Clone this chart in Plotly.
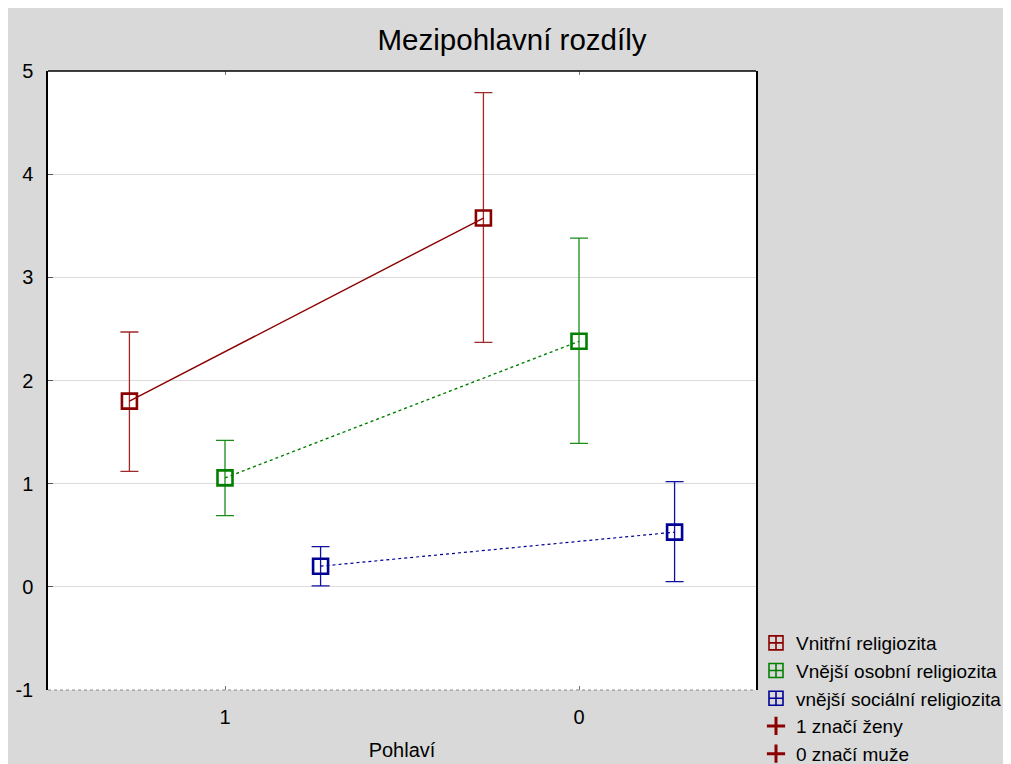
import plotly.graph_objects as go

categories = ["1", "0"]
series_names = ["Vnitřní religiozita", "Vnější osobní religiozita", "vnější sociální religiozita"]
means = {
    "Vnitřní religiozita": [1.80, 3.575],
    "Vnější osobní religiozita": [1.056, 2.38],
    "vnější sociální religiozita": [0.20, 0.53],
}
upper = {
    "Vnitřní religiozita": [2.47, 4.79],
    "Vnější osobní religiozita": [1.42, 3.38],
    "vnější sociální religiozita": [0.39, 1.02],
}
lower = {
    "Vnitřní religiozita": [1.12, 2.37],
    "Vnější osobní religiozita": [0.69, 1.39],
    "vnější sociální religiozita": [0.01, 0.05],
}
y_tick_values = [-1, 0, 1, 2, 3, 4, 5]
y_tick_labels = ["-1", "0", "1", "2", "3", "4", "5"]
note_labels = ["1 značí ženy", "0 značí muže"]

styles = {
    "Vnitřní religiozita": dict(color="#8B0000", ecolor="#A02828", dash="solid", lw=1.4),
    "Vnější osobní religiozita": dict(color="#008000", ecolor="#1A8C1A", dash="3px,3px", lw=1.4),
    "vnější sociální religiozita": dict(color="#000096", ecolor="#1010A0", dash="dot", lw=1.2),
}

FONT = "Liberation Sans, Arial, sans-serif"
W, H = 1003, 756
fig = go.Figure()

for name in series_names:
    st = styles[name]
    m = means[name]
    plus = [u - v for u, v in zip(upper[name], m)]
    minus = [v - l for v, l in zip(m, lower[name])]
    fig.add_trace(go.Scatter(
        x=categories, y=m, name=name, mode="lines+markers",
        offsetgroup=name, showlegend=False,
        line=dict(color=st["color"], width=st["lw"], dash=st["dash"]),
        marker=dict(symbol="square-open", size=15, color=st["color"],
                    line=dict(width=2.6, color=st["color"])),
        error_y=dict(type="data", symmetric=False, array=plus, arrayminus=minus,
                     color=st["ecolor"], thickness=1.3, width=9),
    ))

for name in series_names:
    st = styles[name]
    fig.add_trace(go.Scatter(
        x=[None], y=[None], name=name, mode="markers",
        marker=dict(symbol="square-cross-open", size=14, color=st["color"],
                    line=dict(width=1.6, color=st["color"])),
    ))

for lab in note_labels:
    fig.add_trace(go.Scatter(
        x=[None], y=[None], name=lab, mode="markers",
        marker=dict(symbol="cross-thin", size=13, color="#8B0000",
                    line=dict(width=3, color="#8B0000")),
    ))

fig.update_layout(
    width=W, height=H,
    margin=dict(l=40, r=252, t=63, b=74),
    paper_bgcolor="#D9D9D9",
    plot_bgcolor="white",
    scattermode="group",
    scattergap=0.19,
    font=dict(family=FONT, size=20, color="black"),
    title=dict(text="Mezipohlavní rozdíly", x=504/W, xref="container", xanchor="center",
               y=1 - 32/H, yref="container", yanchor="middle",
               font=dict(size=29.5, family=FONT, color="black")),
    legend=dict(x=748/W, xref="container", xanchor="left",
                y=1 - 616/H, yref="container", yanchor="top",
                bgcolor="rgba(0,0,0,0)", font=dict(size=19, family=FONT, color="black"),
                itemwidth=30, tracegroupgap=0),
    xaxis=dict(type="category", range=[-0.5, 1.5], showgrid=False, zeroline=False,
               showline=False, ticks="inside", ticklen=4, tickcolor="#777777",
               mirror="ticks", tickfont=dict(size=20), ticklabelstandoff=13,
               title=dict(text="Pohlaví", font=dict(size=20), standoff=15),
               automargin=False),
    yaxis=dict(range=[-1, 5], tickvals=y_tick_values, ticktext=y_tick_labels, showgrid=True,
               gridcolor="#DCDCDC", gridwidth=1.2, zeroline=False,
               showline=True, linecolor="black", linewidth=1.5, mirror=True,
               ticks="inside", ticklen=5, tickcolor="#555555",
               tickfont=dict(size=20), ticklabelstandoff=9, automargin=False),
    shapes=[
        dict(type="line", xref="paper", yref="paper", x0=0, x1=1, y0=1, y1=1,
             line=dict(color="black", width=1.5)),
        dict(type="line", xref="paper", yref="paper", x0=0, x1=1, y0=0, y1=0,
             line=dict(color="#888888", width=1.2, dash="dot")),
    ],
)

fig.write_html("out.html")
